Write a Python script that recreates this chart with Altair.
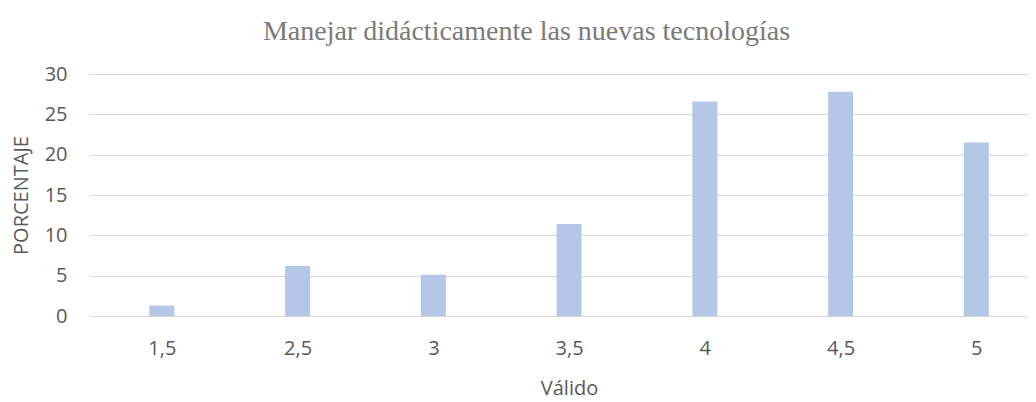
import altair as alt
import pandas as pd

categories = ["1,5", "2,5", "3", "3,5", "4", "4,5", "5"]
percentages = [1.3, 6.2, 5.1, 11.4, 26.6, 27.8, 21.5]

df = pd.DataFrame({
    "pos": list(range(len(categories))),
    "Válido": categories,
    "Porcentaje": percentages,
})

label_expr = "[" + ",".join("'" + c + "'" for c in categories) + "][datum.value]"

label_font = "Open Sans"
text_color = "#595959"

chart = alt.Chart(df).mark_bar(color="#B4C7E7", width=25).encode(
    x=alt.X(
        "pos:Q",
        scale=alt.Scale(domain=[-0.5, 6.344], nice=False, zero=False),
        axis=alt.Axis(
            title="Válido",
            values=list(range(len(categories))),
            labelExpr=label_expr,
            labelAngle=0,
            ticks=False,
            tickSize=0,
            domain=False,
            grid=False,
            labelPadding=22,
            labelFont=label_font,
            labelFontSize=20,
            labelColor=text_color,
            titleFont=label_font,
            titleFontSize=20,
            titleFontWeight="normal",
            titleColor=text_color,
            titlePadding=20,
            titleX=480,
        ),
    ),
    y=alt.Y(
        "Porcentaje:Q",
        scale=alt.Scale(domain=[0, 30], nice=False),
        axis=alt.Axis(
            title="PORCENTAJE",
            values=[0, 5, 10, 15, 20, 25, 30],
            ticks=False,
            tickSize=0,
            domain=False,
            grid=True,
            gridColor="#D9D9D9",
            gridWidth=1.2,
            labelPadding=22,
            labelFont=label_font,
            labelFontSize=20,
            labelColor=text_color,
            titleFont=label_font,
            titleFontSize=20,
            titleFontWeight="normal",
            titleColor=text_color,
            titlePadding=13,
        ),
    ),
    tooltip=["Válido:N", "Porcentaje:Q"],
).properties(
    width=939,
    height=242,
    title=alt.TitleParams(
        text="Manejar didácticamente las nuevas tecnologías",
        font="Liberation Serif",
        fontSize=28,
        fontWeight="normal",
        color="#7A7A7A",
        anchor="middle",
        dx=-32,
        offset=18,
    ),
    autosize=alt.AutoSizeParams(type="none"),
    padding={"left": 81, "top": 66, "right": 0, "bottom": 84},
).configure_view(stroke=None)

chart.save("out.html", embed_options={"renderer": "svg", "actions": False})
